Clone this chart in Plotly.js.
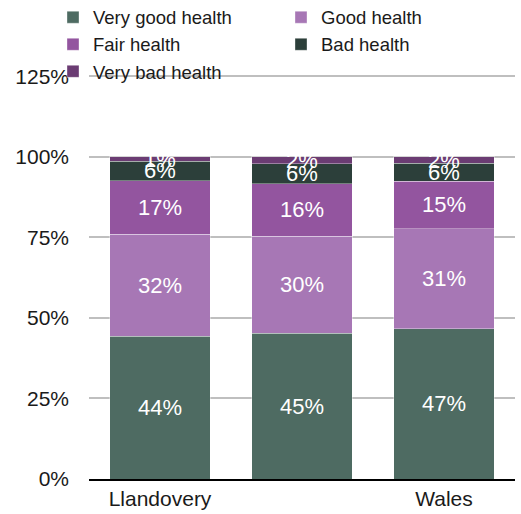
<!DOCTYPE html>
<html>
<head>
<meta charset="utf-8">
<script src="https://cdn.plot.ly/plotly-3.0.1.min.js"></script>
<style>html,body{margin:0;padding:0;background:#fff;}#chart{width:521px;height:514px;}</style>
</head>
<body>
<div id="chart"></div>
<script>
var categories = ["Llandovery", "Carmarthenshire", "Wales"];
var tickLabels = ["Llandovery", "", "Wales"];
var yTickValues = [0, 25, 50, 75, 100, 125];
var yTickLabels = ["0%", "25%", "50%", "75%", "100%", "125%"];
var seriesNames = ["Very good health", "Good health", "Fair health", "Bad health", "Very bad health"];
var veryGood = [44.3, 45.2, 46.6];
var good = [31.6, 30.1, 31.1];
var fair = [16.7, 16.4, 14.7];
var bad = [6.0, 6.2, 5.6];
var veryBad = [1.4, 2.1, 2.0];
var colors = ["#4e6b62", "#a777b5", "#93559f", "#2c3f3a", "#6b3c73"];
var seriesValues = [veryGood, good, fair, bad, veryBad];

var traces = seriesValues.map(function (vals, i) {
  return {
    type: "bar",
    name: seriesNames[i],
    x: categories,
    y: vals,
    marker: { color: colors[i], line: { color: "rgba(255,255,255,0.35)", width: 1 } },
    texttemplate: "%{y:.0f}%",
    textposition: "inside",
    insidetextanchor: "middle",
    constraintext: "none",
    textangle: 0,
    textfont: { family: "Liberation Sans, Arial, sans-serif", size: 22, color: "#ffffff" },
    hoverinfo: "skip",
    cliponaxis: false
  };
});

var layout = {
  width: 521,
  height: 514,
  margin: { l: 89, r: 6, t: 73, b: 35, pad: 0, autoexpand: false },
  barmode: "stack",
  bargap: 0.29,
  paper_bgcolor: "#ffffff",
  plot_bgcolor: "#ffffff",
  font: { family: "Liberation Sans, Arial, sans-serif", size: 20, color: "#1a1a1a" },
  showlegend: true,
  legend: {
    orientation: "h",
    x: -0.0845,
    xanchor: "left",
    y: 1.183,
    yanchor: "top",
    entrywidth: 183,
    entrywidthmode: "pixels",
    traceorder: "normal",
    font: { family: "Liberation Sans, Arial, sans-serif", size: 18.5, color: "#1a1a1a" },
    bgcolor: "rgba(0,0,0,0)",
    itemclick: false,
    itemdoubleclick: false
  },
  xaxis: {
    type: "category",
    tickmode: "array",
    tickvals: categories,
    ticktext: tickLabels,
    showgrid: false,
    showline: true,
    linecolor: "#000000",
    linewidth: 2,
    ticks: "",
    tickfont: { size: 21, color: "#1a1a1a" },
    fixedrange: true
  },
  yaxis: {
    range: [0, 126],
    tickmode: "array",
    tickvals: yTickValues,
    ticktext: yTickLabels,
    showgrid: true,
    gridcolor: "#bfbfbf",
    gridwidth: 2,
    zeroline: false,
    showline: false,
    ticks: "",
    ticklabelstandoff: 19,
    tickfont: { size: 21, color: "#1a1a1a" },
    fixedrange: true
  }
};

Plotly.newPlot("chart", traces, layout, { displayModeBar: false, staticPlot: true });
</script>
</body>
</html>
